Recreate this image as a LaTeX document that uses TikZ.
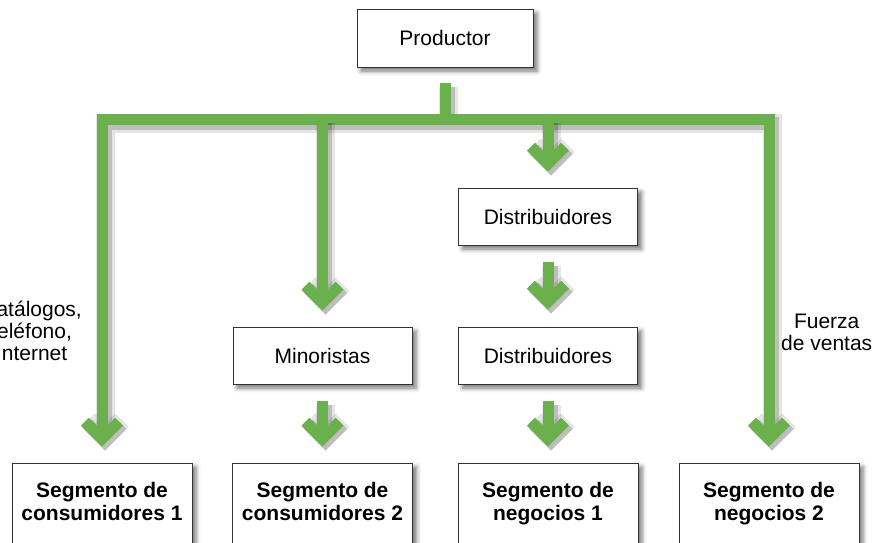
\documentclass[tikz,border=0pt]{standalone}
\usepackage{fontspec}
\setmainfont{Liberation Sans}
\usetikzlibrary{arrows.meta,positioning,shadows.blur}
\definecolor{Leaf}{HTML}{6AB04C}
\definecolor{Ink}{HTML}{333333}
\tikzset{
  chanbox/.style={draw=Ink, line width=1pt, fill=white, minimum height=57pt,
    minimum width=179pt, align=center, font=\fontsize{21}{23}\selectfont,
    blur shadow={shadow xshift=4pt, shadow yshift=-4pt,
      shadow blur radius=4.5pt, shadow opacity=55}},
  segbox/.style={chanbox, minimum height=84pt, minimum width=180pt,
    font=\fontsize{21}{23}\selectfont\bfseries,
    execute at begin node=\strut, execute at end node=\strut},
  flow/.style={draw=Leaf, line width=11pt, line join=miter, line cap=butt,
    preaction={draw=black, opacity=0.10, line width=19pt,
      transform canvas={shift={(3pt,-4pt)}}},
    preaction={draw=black, opacity=0.17, line width=13pt,
      transform canvas={shift={(3pt,-4pt)}}}},
  chev/.tip={Straight Barb[length=17pt, width=34pt, line width=0pt 1, sharp]},
  lbl/.style={align=center, inner sep=0pt, font=\fontsize{21}{22}\selectfont},
}
\begin{document}
\begin{tikzpicture}[x=1pt, y=-1pt]
  \useasboundingbox (0,0) rectangle (884,542);
  % boxes
  \node[chanbox, minimum width=176pt, minimum height=58pt] (prod) at (445,38) {Productor};
  \node[chanbox] (dist1) at (548,216.5) {Distribuidores};
  \node[chanbox] (dist2) at (548,355.5) {Distribuidores};
  \node[chanbox] (mino) at (322.5,355.5) {Minoristas};
  \node[segbox] (seg1) at (102,505) {Segmento de\\consumidores 1};
  \node[segbox] (seg2) at (322.5,505) {Segmento de\\consumidores 2};
  \node[segbox] (seg3) at (548,505) {Segmento de\\negocios 1};
  \node[segbox] (seg4) at (769,505) {Segmento de\\negocios 2};

  % trunk and bar
  \coordinate (stem) at (445,83);
  \coordinate (fork) at (445,119);
  \coordinate (barL) at (seg1.north |- fork);
  \coordinate (barR) at (seg4.north |- fork);
  \draw[flow] (stem) -- (fork);
  \draw[flow, chev-chev] ([yshift=16pt]seg1.north) -- (barL) -- (barR)
    -- ([yshift=16pt]seg4.north);
  \draw[flow, -chev] (mino.north |- fork) -- ([yshift=16pt]mino.north);
  \draw[flow, -chev] (dist1.north |- fork) -- ([yshift=16pt]dist1.north);

  % short links
  \draw[flow, -chev] ([yshift=-16pt]dist1.south) -- ([yshift=17pt]dist2.north);
  \draw[flow, -chev] ([yshift=-16pt]mino.south) -- ([yshift=16pt]seg2.north);
  \draw[flow, -chev] ([yshift=-16pt]dist2.south) -- ([yshift=16pt]seg3.north);

  % channel labels
  \node[lbl, anchor=east] (direct) at (82,331) {Catálogos,\\teléfono,\\Internet};
  \node[lbl, anchor=west] (sales) at (781,332) {Fuerza\\de ventas};
\end{tikzpicture}
\end{document}
